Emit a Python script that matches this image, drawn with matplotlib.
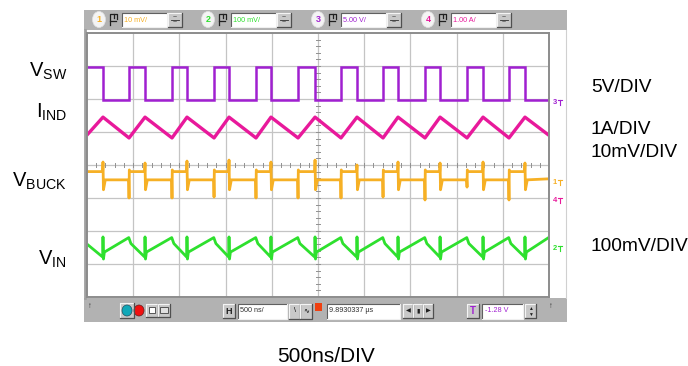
import matplotlib
matplotlib.use("Agg")
import matplotlib.pyplot as plt
from matplotlib.patches import Rectangle, Ellipse

# ---------------- data ----------------
# time axis: 500 ns/div, 10 divisions ; vertical: 8 divisions
t_first, t_last = 10, 4990                      # ns, trace extent
sw_rise_ns = [455, 920, 1375, 1829, 2284, 2749, 3204, 3658, 4113, 4567]
sw_fall_ns = [173, 628, 1082, 1537, 1991, 2468, 2922, 3366, 3821, 4286, 4740]

vsw_high = 6.97      # div
vsw_low = 5.97

iind_peak = 5.45
iind_valley = 4.82
iind_first, iind_last = 4.94, 4.92

vbuck_high = 3.80
vbuck_low = 3.55
vbuck_under = 3.25
vbuck_spike_up = [4.09, 4.06, 4.12, 4.15, 4.09, 4.15, 4.00, 4.09, 4.06, 4.09, 4.06]
vbuck_spike_dn = [3.00, 3.00, 3.03, 3.00, 3.00, 3.00, 3.03, 2.94, 3.33, 2.94]
vbuck_first, vbuck_last = 3.80, 3.58

vin_top = 1.80
vin_knee = 1.62
vin_bottom = 1.21
vin_spike_up = 1.82
vin_spike_dn = 1.15
vin_after = 1.36
vin_first, vin_last = 1.58, 1.79

ch_labels = ["V", "I", "V", "V"]
ch_subs = ["SW", "IND", "BUCK", "IN"]
scale_labels = ["5V/DIV", "1A/DIV", "10mV/DIV", "100mV/DIV"]
time_label = "500ns/DIV"
ch_box_text = ["10 mV/", "100 mV/", "5.00 V/", "1.00 A/"]
ch_numbers = ["1", "2", "3", "4"]
timebase_text = "500 ns/"
delay_text = "9.8930337 \u00b5s"
trig_text = "-1.28 V"

# ---------------- styles ----------------
C_SW = "#a020d0"
C_IND = "#e8199b"
C_BUCK = "#f6b025"
C_IN = "#2ee02e"
ch_colors = [C_BUCK, C_IN, C_SW, C_IND]

plt.rcParams['font.family'] = ['Liberation Sans', 'DejaVu Sans']
plt.rcParams['mathtext.fontset'] = 'custom'
plt.rcParams['mathtext.rm'] = 'Liberation Sans'
plt.rcParams['mathtext.it'] = 'Liberation Sans'

W, H = 688, 366
fig = plt.figure(figsize=(W / 100, H / 100), dpi=100)
fig.patch.set_facecolor("white")

# decoration layer in pixel coordinates
deco = fig.add_axes([0, 0, 1, 1], zorder=0)
deco.set_xlim(0, W)
deco.set_ylim(H, 0)
deco.axis("off")

GX0, GX1, GY0, GY1 = 87, 549, 33, 297   # graticule in px
PX0, PX1 = 84, 567

# top and bottom bars
deco.add_patch(Rectangle((PX0, 10), PX1 - PX0, 20, fc="#b2b2b2", ec="none"))
deco.add_patch(Rectangle((PX0, 298), PX1 - PX0, 24, fc="#b2b2b2", ec="none"))
deco.plot([PX0 + 1, PX0 + 1], [30, 298], color="#a0a0a0", lw=2)
deco.plot([PX1 - 1, PX1 - 1], [30, 298], color="#d0d0d0", lw=0.8)


def sunken_box(x0, x1, y0, y1, fc="white"):
    deco.add_patch(Rectangle((x0, y0), x1 - x0, y1 - y0, fc=fc, ec="none"))
    deco.plot([x0, x0, x1], [y1, y0, y0], color="#606060", lw=0.8)
    deco.plot([x0, x1, x1], [y1, y1, y0], color="#f0f0f0", lw=0.8)


def button(x0, x1, y0, y1):
    deco.add_patch(Rectangle((x0, y0), x1 - x0, y1 - y0, fc="#c8c8c8", ec="none"))
    deco.plot([x0, x0, x1], [y1, y0, y0], color="#f4f4f4", lw=0.8)
    deco.plot([x0, x1, x1], [y1, y1, y0], color="#505050", lw=0.9)


def probe_icon(cx, cy):
    deco.plot([cx - 3, cx - 3, cx + 1, cx + 1], [cy + 6, cy - 5, cy - 5, cy - 1], color="#202020", lw=0.9)
    deco.plot([cx + 1, cx + 4, cx + 4], [cy - 5, cy - 5, cy], color="#202020", lw=0.9)
    deco.plot([cx - 3, cx + 3], [cy + 2, cy + 2], color="#202020", lw=0.9)


# channel controls (top bar)
circle_x = [99, 208, 318, 428]
for i, cx in enumerate(circle_x):
    deco.add_patch(Ellipse((cx, 19.5), 13, 16, fc="#f4f4f4", ec="#e0e0e0", lw=0.5))
    deco.text(cx, 20, ch_numbers[i], color=ch_colors[i], fontsize=6.5, fontweight="bold",
              ha="center", va="center")
    probe_icon(cx + 14, 19)
    bx0 = cx + 23
    sunken_box(bx0, bx0 + 45, 13, 27)
    deco.text(bx0 + 2, 20, ch_box_text[i], color=ch_colors[i], fontsize=5.2, ha="left", va="center")
    button(bx0 + 46, bx0 + 60, 13, 27)
    deco.text(bx0 + 53, 17.5, "~", fontsize=5, ha="center", va="center", color="#303030")
    deco.plot([bx0 + 49, bx0 + 57], [20, 20], color="#303030", lw=0.6)
    deco.text(bx0 + 53, 23, "~", fontsize=5, ha="center", va="center", color="#303030")

# bottom bar controls
deco.text(90, 307, "\u2191", fontsize=5.5, ha="center", va="center", color="#303030")
deco.text(551, 307, "\u2191", fontsize=5.5, ha="center", va="center", color="#303030")
button(120, 134, 303, 318)
deco.add_patch(Ellipse((127, 310.5), 10, 11, fc="#10a8b8", ec="#205060", lw=0.5))
deco.add_patch(Ellipse((139, 310.5), 10, 11, fc="#f01010", ec="#602020", lw=0.5))
button(146, 158, 304, 317)
button(158, 170, 304, 317)
deco.add_patch(Rectangle((149, 307), 6, 6, fc="white", ec="#404040", lw=0.6))
deco.add_patch(Rectangle((160, 307), 8, 6, fc="#e0e0e0", ec="#404040", lw=0.6))
button(223, 235, 304, 318)
deco.text(229, 311, "H", fontsize=6.5, fontweight="bold", ha="center", va="center", color="#202020")
sunken_box(238, 287, 304, 319)
deco.text(240, 311, timebase_text, fontsize=5.2, ha="left", va="center", color="#303030")
button(289, 300, 304, 319)
button(300, 312, 304, 319)
deco.text(294.5, 311, "\\", fontsize=5, ha="center", va="center")
deco.text(306, 311, "\u223f", fontsize=5, ha="center", va="center")
deco.add_patch(Rectangle((315, 303), 7, 8, fc="#f04010", ec="none"))
sunken_box(327, 400, 304, 319)
deco.text(329, 311, delay_text, fontsize=5.2, ha="left", va="center", color="#303030")
for bx in (403, 413, 423):
    button(bx, bx + 10, 304, 318)
deco.text(408, 311, "\u25c0", fontsize=4.5, ha="center", va="center", color="#202020")
deco.text(418, 311, "\u25ae", fontsize=4.5, ha="center", va="center", color="#202020")
deco.text(428, 311, "\u25b6", fontsize=4.5, ha="center", va="center", color="#202020")
button(467, 479, 304, 318)
deco.text(473, 311, "T", fontsize=7, fontweight="bold", ha="center", va="center", color="#a020d0")
sunken_box(482, 523, 304, 319)
deco.text(485, 311, trig_text, fontsize=5.2, ha="left", va="center", color="#a020d0")
button(525, 536, 304, 318)
deco.text(530.5, 308, "\u25b2", fontsize=3.5, ha="center", va="center", color="#202020")
deco.text(530.5, 314, "\u25bc", fontsize=3.5, ha="center", va="center", color="#202020")

# ---------------- scope graticule axes ----------------
ax = fig.add_axes([GX0 / W, 1 - GY1 / H, (GX1 - GX0) / W, (GY1 - GY0) / H], zorder=2)
ax.set_facecolor("white")
ax.set_xlim(0, 5000)
ax.set_ylim(0, 8)
ax.set_xticks([])
ax.set_yticks([])
for s in ax.spines.values():
    s.set_color("#8c8c8c")
    s.set_linewidth(1.4)
for k in range(1, 10):
    ax.axvline(k * 500, color="#c4c4c4", lw=0.9, zorder=0)
for k in range(1, 8):
    ax.axhline(k, color="#c4c4c4", lw=0.9, zorder=0)
# minor ticks on centre axes
for k in range(1, 50):
    ax.plot([k * 100, k * 100], [3.94, 4.06], color="#909090", lw=0.7, zorder=0)
for k in range(1, 40):
    ax.plot([2475, 2525], [k * 0.2, k * 0.2], color="#909090", lw=0.7, zorder=0)

# --- V_SW trace
events = sorted([(t, "r") for t in sw_rise_ns] + [(t, "f") for t in sw_fall_ns])
sw_t, sw_v = [t_first], [vsw_high]
for t, kind in events:
    if kind == "r":
        sw_t += [t, t]
        sw_v += [vsw_low, vsw_high]
    else:
        sw_t += [t, t]
        sw_v += [vsw_high, vsw_low]
sw_t.append(t_last)
sw_v.append(vsw_low)
ax.plot(sw_t, sw_v, color=C_SW, lw=1.8, solid_joinstyle="miter")

# --- I_IND trace
ind_t, ind_v = [t_first], [iind_first]
for t, kind in events:
    ind_t.append(t)
    ind_v.append(iind_valley if kind == "r" else iind_peak)
ind_t.append(t_last)
ind_v.append(iind_last)
ax.plot(ind_t, ind_v, color=C_IND, lw=2.4)

# --- V_BUCK trace
bk_t, bk_v = [t_first], [vbuck_first]
ri = fi = 0
for t, kind in events:
    if kind == "r":
        bk_t += [t - 4, t, t + 3, t + 10]
        bk_v += [vbuck_low, vbuck_spike_dn[ri], vbuck_high + 0.05, vbuck_high]
        ri += 1
    else:
        bk_t += [t - 4, t, t + 5, t + 25]
        bk_v += [vbuck_high, vbuck_spike_up[fi], vbuck_under, vbuck_low]
        fi += 1
bk_t.append(t_last)
bk_v.append(vbuck_last)
ax.plot(bk_t, bk_v, color=C_BUCK, lw=2.0)

# --- V_IN trace
in_t, in_v = [t_first], [vin_first]
for t, kind in events:
    if kind == "r":
        in_t += [t - 3, t + 20]
        in_v += [vin_top, vin_knee]
    else:
        in_t += [t - 3, t, t + 5, t + 15]
        in_v += [vin_bottom, vin_spike_up, vin_spike_dn, vin_after]
in_t.append(t_last)
in_v.append(vin_last)
ax.plot(in_t, in_v, color=C_IN, lw=2.0)

# ground / channel markers on the right of the graticule
marker_y = [182, 248, 102, 200]
for i, my in enumerate(marker_y):
    deco.text(555, my, ch_numbers[i], color=ch_colors[i], fontsize=5.5, fontweight="bold",
              ha="center", va="center", zorder=3)
    deco.plot([558, 562], [my - 2, my - 2], color=ch_colors[i], lw=0.8)
    deco.plot([560, 560], [my - 2, my + 3], color=ch_colors[i], lw=0.8)

# ---------------- labels ----------------
label_base = [77, 118, 187, 265]
for i in range(4):
    deco.text(67, label_base[i], ch_labels[i] + r"$_{\mathrm{" + ch_subs[i] + "}}$",
              fontsize=14.5, ha="right", va="baseline", color="black")
scale_base = [92, 134, 157, 251]
for i in range(4):
    deco.text(591, scale_base[i], scale_labels[i], fontsize=13.8, ha="left", va="baseline",
              color="black")
deco.text(326, 362, time_label, fontsize=15, ha="center", va="baseline", color="black")

fig.savefig("out.png", dpi=100)
